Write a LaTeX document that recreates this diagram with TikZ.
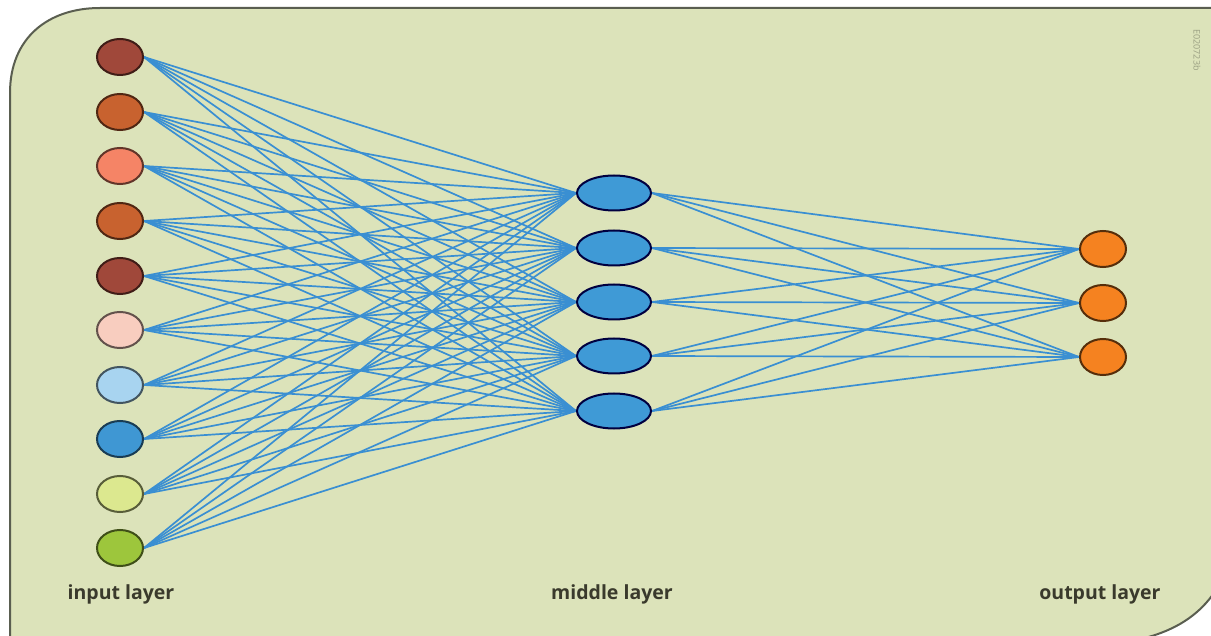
\documentclass[tikz,border=0pt]{standalone}
\usepackage{fontspec}
\setmainfont{Open Sans}
\usetikzlibrary{shapes.geometric,backgrounds}
\definecolor{bgc}{HTML}{DCE3BA}
\definecolor{bord}{HTML}{5A5E50}
\definecolor{edgec}{HTML}{3A8FD2}
\definecolor{labc}{HTML}{3A3A2C}
\definecolor{cA}{HTML}{A0483A}
\definecolor{cB}{HTML}{C8622F}
\definecolor{cC}{HTML}{F58466}
\definecolor{cD}{HTML}{F8CDBF}
\definecolor{cE}{HTML}{A8D4F0}
\definecolor{cF}{HTML}{3F97D3}
\definecolor{cG}{HTML}{DCE88F}
\definecolor{cH}{HTML}{9DC63C}
\definecolor{midc}{HTML}{3F9AD6}
\definecolor{outc}{HTML}{F58220}
\tikzset{
  innode/.style={ellipse, draw=#1!40!black, line width=2pt, minimum width=46pt, minimum height=36pt, inner sep=0pt},
  midnode/.style={ellipse, draw=black!75!blue, line width=2pt, fill=midc, minimum width=74pt, minimum height=35pt, inner sep=0pt},
  outnode/.style={ellipse, draw=outc!35!black, line width=2pt, fill=outc, minimum width=46pt, minimum height=36pt, inner sep=0pt},
  conn/.style={draw=edgec, line width=1.7pt},
  lab/.style={text=labc, font=\fontsize{19.5}{22}\selectfont\bfseries},
}
\begin{document}
\begin{tikzpicture}[x=1pt,y=-1pt]
\useasboundingbox (0,0) rectangle (1211,636);
% input layer
\foreach \i/\y/\c in {1/57/cA,2/112/cB,3/166/cC,4/221/cB,5/276/cA,6/330/cD,7/385/cE,8/439/cF,9/494/cG,10/548/cH}
  \node[innode=\c, fill=\c] (in\i) at (120,\y) {};
% middle layer
\foreach \j/\y in {1/193,2/248,3/302,4/356,5/411}
  \node[midnode] (mid\j) at (614,\y) {};
% output layer
\foreach \k/\y in {1/249,2/303,3/357}
  \node[outnode] (out\k) at (1103,\y) {};
% labels
\node[lab] (l1) at (121,594) {input layer};
\node[lab] (l2) at (612,594) {middle layer};
\node[lab] (l3) at (1100,594) {output layer};
\node[rotate=-90, text=black!30!bgc, font=\fontsize{9}{10}\selectfont] (wm) at (1197,50) {E020723b};
\begin{pgfonlayer}{background}
\begin{scope}
\clip (0,0) rectangle (1211,636);
\fill[white] (0,0) rectangle (1211,636);
\draw[bord, fill=bgc, line width=2pt] (10,660) -- (10,93) .. controls (10,38) and (48,8) .. (100,8) -- (1230,8) -- (1230,560) .. controls (1212,615) and (1170,640) .. (1100,645) -- cycle;
\end{scope}
\foreach \i in {1,...,10}
  \foreach \j in {1,...,5}
    \draw[conn] (in\i.east) -- (mid\j.west);
\foreach \j in {1,...,5}
  \foreach \k in {1,...,3}
    \draw[conn] (mid\j.east) -- (out\k.west);
\end{pgfonlayer}
\end{tikzpicture}
\end{document}
